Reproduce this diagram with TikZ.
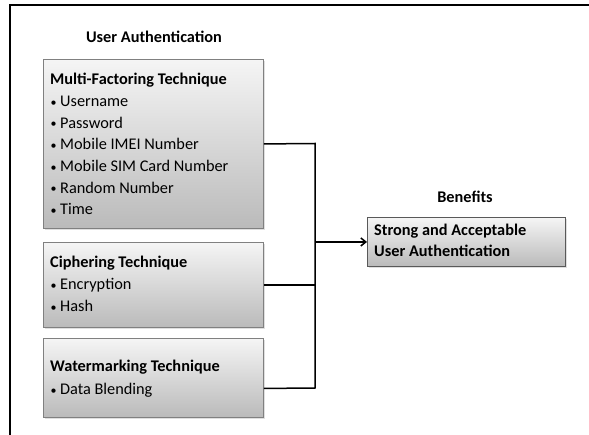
\documentclass[tikz,border=0pt]{standalone}
\usepackage{fontspec}
\setmainfont{Carlito}
\usetikzlibrary{arrows.meta,shadows}
% small list bullet followed by a fixed indent
\newcommand{\itemdot}{\makebox[10pt][l]{\hspace{0.5pt}\raisebox{0.6pt}{\fontsize{12}{12}\selectfont•}}}

\begin{document}
\begin{tikzpicture}[x=1pt,y=-1pt,
  panel/.style={draw=black!50, line width=0.9pt, anchor=north west, inner sep=0pt,
    top color=black!4, bottom color=black!27,
    drop shadow={shadow xshift=1.2pt, shadow yshift=-1.2pt, opacity=0.25}},
  heading/.style={anchor=base, inner sep=0pt, font=\fontsize{16.3}{19}\selectfont\bfseries},
  line/.style={anchor=base west, inner sep=0pt, font=\fontsize{16.3}{19}\selectfont},
  boldline/.style={line, font=\fontsize{16.3}{19}\selectfont\bfseries},
  wire/.style={draw=black, line width=1.5pt},
  frame/.style={draw=black, line width=1.6pt}]
\useasboundingbox (0,0) rectangle (589,435);

% page frame: top and left edges
\coordinate (f0) at (10,5);
\coordinate (f1) at (589,5);
\coordinate (f2) at (10,435);
\draw[frame] (f1) -- (f0) -- (f2);

% headings
\node[heading] (uahead) at (154,43) {User Authentication};
\node[heading] (benhead) at (465,203) {Benefits};

% technique panels
\node[panel, minimum width=220pt, minimum height=169pt] (mft) at (43,59) {};
\node[panel, minimum width=220pt, minimum height=85pt] (ciph) at (43,242) {};
\node[panel, minimum width=220pt, minimum height=79pt] (wm) at (43,338) {};
\node[panel, draw=black!65, minimum width=198pt, minimum height=49pt] (ben) at (367,217) {};

% multi-factoring contents
\node[boldline] (mft0) at (50,85) {Multi-Factoring Technique};
\node[line] (mft1) at (50,106.7) {\itemdot Username};
\node[line] (mft2) at (50,128.4) {\itemdot Password};
\node[line] (mft3) at (50,150) {\itemdot Mobile IMEI Number};
\node[line] (mft4) at (50,171.7) {\itemdot Mobile SIM Card Number};
\node[line] (mft5) at (50,193.4) {\itemdot Random Number};
\node[line] (mft6) at (50,215) {\itemdot Time};

% ciphering contents
\node[boldline] (ciph0) at (50,268) {Ciphering Technique};
\node[line] (ciph1) at (50,290) {\itemdot Encryption};
\node[line] (ciph2) at (50,312) {\itemdot Hash};

% watermarking contents
\node[boldline] (wm0) at (50,372) {Watermarking Technique};
\node[line] (wm1) at (50,395) {\itemdot Data Blending};

% benefit contents
\node[boldline] (ben0) at (374,236) {Strong and Acceptable};
\node[boldline] (ben1) at (374,257) {User Authentication};

% collecting bus
\coordinate (bustop) at (315,143.5);
\coordinate (busbot) at (315,388);
\draw[wire] (mft.east) -- (bustop) -- (busbot) -- ([yshift=-10.5pt]wm.east);
\draw[wire] (ciph.east) -- (ciph.east -| bustop);
\draw[wire, -{Straight Barb[length=5pt,width=8pt]}] (ben.west -| bustop) -- (ben.west);
\end{tikzpicture}
\end{document}
